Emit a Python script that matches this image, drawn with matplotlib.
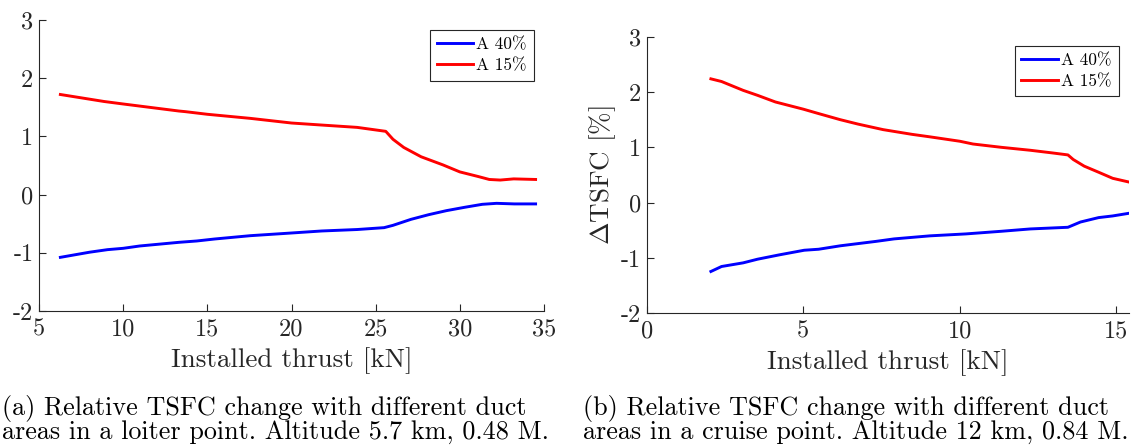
import matplotlib
matplotlib.use("Agg")
import matplotlib.pyplot as plt

plt.rcParams["font.family"] = ["cmr10", "DejaVu Serif"]
plt.rcParams["mathtext.fontset"] = "cm"
plt.rcParams["axes.unicode_minus"] = False
plt.rcParams["axes.formatter.use_mathtext"] = False

# Loiter point, 5.7 km, 0.48 M
loiter_thrust_40 = [6.27, 8.0, 9.07, 10.0, 10.98, 13.31, 14.37, 15.43, 17.55, 19.67,
                    21.8, 23.9, 25.5, 26.03, 27.1, 28.15, 29.2, 30.27, 31.33, 32.18,
                    33.24, 34.5]
loiter_dtsfc_40 = [-1.078, -0.99, -0.946, -0.923, -0.883, -0.82, -0.797, -0.763, -0.706,
                   -0.666, -0.625, -0.60, -0.568, -0.528, -0.425, -0.345, -0.276, -0.219,
                   -0.167, -0.15, -0.16, -0.16]
loiter_thrust_15 = [6.27, 8.86, 10.0, 13.31, 13.7, 15.0, 17.55, 20.0, 21.8, 23.9, 25.6,
                    26.03, 26.67, 27.7, 29.0, 30.0, 31.1, 31.75, 32.4, 33.2, 34.5]
loiter_dtsfc_15 = [1.72, 1.60, 1.557, 1.436, 1.425, 1.38, 1.31, 1.23, 1.195, 1.155, 1.087,
                   0.95, 0.81, 0.65, 0.51, 0.39, 0.31, 0.26, 0.25, 0.27, 0.26]

# Cruise point, 12 km, 0.84 M
cruise_thrust_40 = [2.05, 2.39, 3.08, 3.54, 4.23, 5.03, 5.49, 6.18, 7.32, 7.9, 9.04,
                    10.19, 11.33, 12.25, 13.45, 13.85, 14.43, 14.88, 15.42]
cruise_dtsfc_40 = [-1.244, -1.154, -1.088, -1.022, -0.944, -0.86, -0.842, -0.78, -0.70,
                   -0.655, -0.60, -0.565, -0.517, -0.475, -0.445, -0.35, -0.27, -0.24, -0.19]
cruise_thrust_15 = [2.05, 2.39, 3.08, 3.54, 4.11, 5.0, 5.49, 6.18, 6.75, 7.55, 8.47, 9.04,
                    10.0, 10.42, 11.33, 12.25, 12.94, 13.45, 13.62, 13.97, 14.43, 14.88, 15.42]
cruise_dtsfc_15 = [2.238, 2.19, 2.03, 1.94, 1.82, 1.69, 1.61, 1.50, 1.42, 1.32, 1.235, 1.19,
                   1.11, 1.06, 1.00, 0.947, 0.90, 0.863, 0.78, 0.66, 0.55, 0.44, 0.37]

series_labels = ["A 40%", "A 15%"]
y_ticks = [-2, -1, 0, 1, 2, 3]
loiter_x_ticks = [5, 10, 15, 20, 25, 30, 35]
cruise_x_ticks = [0, 5, 10, 15]

x_label = "Installed thrust [kN]"
y_label = r"$\Delta$TSFC [%]"
caption_a = ["(a) Relative TSFC change with different duct",
             "areas in a loiter point. Altitude 5.7 km, 0.48 M."]
caption_b = ["(b) Relative TSFC change with different duct",
             "areas in a cruise point. Altitude 12 km, 0.84 M."]

W, H = 1133, 448
fig = plt.figure(figsize=(W / 100, H / 100), dpi=100)

axis_col = "#262626"
tick_fs = 17.5
label_fs = 19.5
caption_fs = 18.8


def px_axes(left, top, right, bottom):
    return fig.add_axes([left / W, 1 - bottom / H, (right - left) / W, (bottom - top) / H])


def style(ax, xlim, xticks):
    ax.set_xlim(*xlim)
    ax.set_ylim(-2, 3)
    ax.set_xticks(xticks)
    ax.set_yticks(y_ticks)
    for s in ("top", "right"):
        ax.spines[s].set_visible(False)
    for s in ("left", "bottom"):
        ax.spines[s].set_color(axis_col)
        ax.spines[s].set_linewidth(0.8)
    ax.tick_params(direction="in", length=5, width=0.8, colors=axis_col,
                   labelcolor=axis_col, labelsize=tick_fs)
    ax.tick_params(axis="x", pad=5)
    ax.tick_params(axis="y", pad=4)
    ax.set_xlabel(x_label, fontsize=label_fs, color=axis_col, labelpad=5)


def legend(ax, anchor):
    leg = ax.legend(loc="upper right", bbox_to_anchor=anchor, borderaxespad=0,
                    fontsize=12.5, frameon=True, fancybox=False, handlelength=2.1,
                    handletextpad=0.2, borderpad=0.4, labelspacing=0.35)
    fr = leg.get_frame()
    fr.set_edgecolor(axis_col)
    fr.set_linewidth(0.8)
    fr.set_alpha(1)


ax1 = px_axes(39, 20, 544, 311)
ax1.plot(loiter_thrust_40, loiter_dtsfc_40, color="#0000ff", lw=2.1, label=series_labels[0])
ax1.plot(loiter_thrust_15, loiter_dtsfc_15, color="#ff0000", lw=2.1, label=series_labels[1])
style(ax1, (5, 35), loiter_x_ticks)
legend(ax1, (0.980, 0.966))

ax2 = px_axes(646.7, 36.7, 1129, 313.3)
ax2.plot(cruise_thrust_40, cruise_dtsfc_40, color="#0000ff", lw=2.1, label=series_labels[0])
ax2.plot(cruise_thrust_15, cruise_dtsfc_15, color="#ff0000", lw=2.1, label=series_labels[1])
style(ax2, (0, 15.4), cruise_x_ticks)
ax2.set_ylabel(y_label, fontsize=label_fs, color=axis_col, labelpad=2)
legend(ax2, (0.979, 0.968))

fig.text(2 / W, 1 - 408 / H, caption_a[0], fontsize=caption_fs, va="center", ha="left")
fig.text(2 / W, 1 - 432 / H, caption_a[1], fontsize=caption_fs, va="center", ha="left")
fig.text(583 / W, 1 - 408 / H, caption_b[0], fontsize=caption_fs, va="center", ha="left")
fig.text(583 / W, 1 - 432 / H, caption_b[1], fontsize=caption_fs, va="center", ha="left")

fig.savefig("out.png", dpi=100)
